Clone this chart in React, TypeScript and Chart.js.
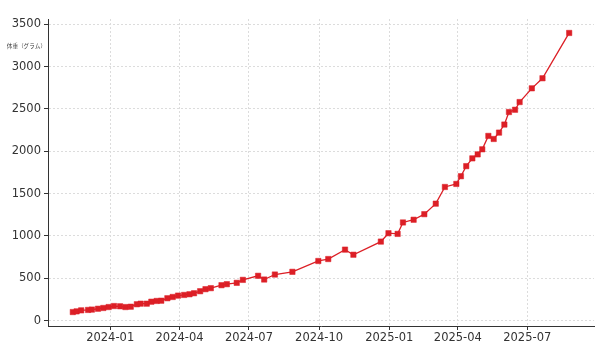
import React, { useEffect, useRef } from "react";
import { Chart, registerables } from "chart.js";

Chart.register(...registerables);

const dates: string[] = [
  "2023-11-13", "2023-11-18", "2023-11-24", "2023-12-03", "2023-12-08", "2023-12-16",
  "2023-12-23", "2023-12-30", "2024-01-06", "2024-01-14", "2024-01-21", "2024-01-28",
  "2024-02-05", "2024-02-10", "2024-02-18", "2024-02-24", "2024-03-02", "2024-03-08",
  "2024-03-16", "2024-03-23", "2024-03-30", "2024-04-07", "2024-04-14", "2024-04-20",
  "2024-04-28", "2024-05-05", "2024-05-12", "2024-05-26", "2024-06-02", "2024-06-15",
  "2024-06-23", "2024-07-13", "2024-07-21", "2024-08-04", "2024-08-27", "2024-09-30",
  "2024-10-13", "2024-11-04", "2024-11-15", "2024-12-21", "2024-12-31", "2025-01-12",
  "2025-01-19", "2025-02-02", "2025-02-16", "2025-03-03", "2025-03-15", "2025-03-30",
  "2025-04-05", "2025-04-12", "2025-04-20", "2025-04-27", "2025-05-03", "2025-05-11",
  "2025-05-18", "2025-05-25", "2025-06-01", "2025-06-07", "2025-06-15", "2025-06-21",
  "2025-07-07", "2025-07-21", "2025-08-25",
];

const weights: number[] = [
  101, 109, 121, 126, 130, 140,
  149, 160, 172, 169, 160, 164,
  193, 200, 200, 223, 232, 235,
  264, 279, 295, 303, 311, 323,
  347, 371, 383, 418, 430, 446,
  481, 529, 485, 544, 576, 704,
  727, 838, 778, 933, 1032, 1024,
  1159, 1191, 1257, 1381, 1578, 1614,
  1705, 1824, 1916, 1963, 2023, 2181,
  2145, 2220, 2315, 2463, 2490, 2581,
  2743, 2862, 3397,
];

const xTickDates: string[] = ["2024-01-01", "2024-04-01", "2024-07-01", "2024-10-01", "2025-01-01", "2025-04-01", "2025-07-01"];
const xTickLabels: string[] = ["2024-01", "2024-04", "2024-07", "2024-10", "2025-01", "2025-04", "2025-07"];
const yTicks: number[] = [0, 500, 1000, 1500, 2000, 2500, 3000, 3500];
const yAxisLabel = "体重（グラム）";

const DAY = 86400000;
const ORIGIN = Date.UTC(2024, 0, 1);
const toDay = (s: string) => {
  const [y, m, d] = s.split("-").map(Number);
  return (Date.UTC(y, m - 1, d) - ORIGIN) / DAY;
};

const LINE = "#dc1f26";
const TEXT = "#333333";
const FONT = '"DejaVu Sans", sans-serif';

export default function App() {
  const ref = useRef<HTMLCanvasElement | null>(null);

  useEffect(() => {
    if (!ref.current) return;
    const pts = dates.map((d, i) => ({ x: toDay(d), y: weights[i] }));
    const xs = pts.map((p) => p.x);
    const xMin0 = Math.min(...xs), xMax0 = Math.max(...xs);
    const xPad = (xMax0 - xMin0) * 0.05;
    const yMin0 = Math.min(...weights), yMax0 = Math.max(...weights);
    const yPad = (yMax0 - yMin0) * 0.05;

    const labelPlugin = {
      id: "ylabel",
      afterDraw(chart: any) {
        const ctx = chart.ctx;
        ctx.save();
        ctx.font = '5.6px "Noto Sans CJK JP", sans-serif';
        ctx.fillStyle = "#444";
        ctx.textAlign = "right";
        ctx.textBaseline = "middle";
        ctx.fillText(yAxisLabel, chart.chartArea.left - 2, 46);
        ctx.restore();
      },
    };

    const chart = new Chart(ref.current, {
      type: "line",
      data: {
        datasets: [
          {
            data: pts,
            borderColor: LINE,
            backgroundColor: LINE,
            pointBackgroundColor: LINE,
            pointBorderColor: LINE,
            borderWidth: 1.3,
            pointStyle: "rect",
            pointRadius: 3.8,
            pointBorderWidth: 0.5,
            tension: 0,
          },
        ],
      },
      options: {
        animation: false,
        responsive: false,
        devicePixelRatio: 1,
        layout: { padding: { top: 19, right: 6, left: 0, bottom: 0 } },
        plugins: { legend: { display: false }, tooltip: { enabled: false } },
        scales: {
          x: {
            type: "linear",
            min: xMin0 - xPad,
            max: xMax0 + xPad,
            afterBuildTicks: (s: any) => {
              s.ticks = xTickDates.map((d) => ({ value: toDay(d) }));
            },
            afterFit: (s: any) => {
              s.height = 32;
            },
            ticks: {
              autoSkip: false,
              maxRotation: 0,
              padding: 1,
              color: TEXT,
              font: { family: FONT, size: 11.5 },
              callback: (v: any) => {
                const i = xTickDates.findIndex((d) => toDay(d) === v);
                return i >= 0 ? xTickLabels[i] : "";
              },
            },
            grid: { color: "#dcdcdc", lineWidth: 1, tickColor: TEXT, tickLength: 4, tickWidth: 1 },
            border: { display: true, color: TEXT, width: 1, dash: [2, 2] },
          },
          y: {
            type: "linear",
            min: yMin0 - yPad,
            max: yMax0 + yPad,
            afterBuildTicks: (s: any) => {
              s.ticks = yTicks.map((v) => ({ value: v }));
            },
            afterFit: (s: any) => {
              s.width = 48;
            },
            ticks: {
              padding: 3,
              color: TEXT,
              font: { family: FONT, size: 11.5 },
              callback: (v: any) => String(v),
            },
            grid: { color: "#dcdcdc", lineWidth: 1, tickColor: TEXT, tickLength: 4, tickWidth: 1 },
            border: { display: true, color: TEXT, width: 1, dash: [2, 2] },
          },
        },
      },
      plugins: [labelPlugin],
    } as any);
    return () => chart.destroy();
  }, []);

  return (
    <div style={{ position: "absolute", left: 0, top: 0, width: 600, height: 358, background: "#fff" }}>
      <canvas ref={ref} width={600} height={358} style={{ width: 600, height: 358, display: "block" }} />
    </div>
  );
}
